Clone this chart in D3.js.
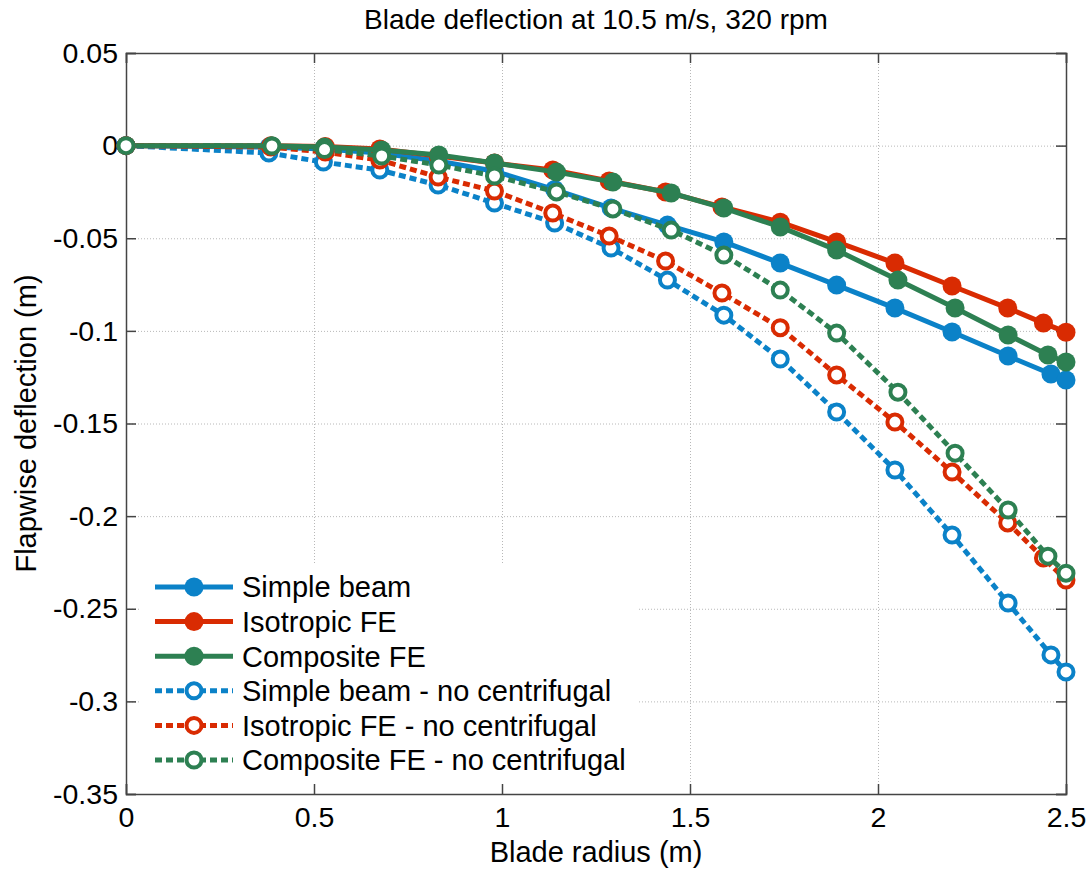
<!DOCTYPE html>
<html>
<head>
<meta charset="utf-8">
<script src="https://cdn.jsdelivr.net/npm/d3@7"></script>
<style>
  html, body { margin: 0; padding: 0; background: #fff; }
  svg { display: block; font-family: "Liberation Sans", Arial, sans-serif; }
</style>
</head>
<body>
<svg id="chart" width="1088" height="869"></svg>
<script>
// ---- Data ----
const seriesNames = ["Simple beam", "Isotropic FE", "Composite FE",
  "Simple beam - no centrifugal", "Isotropic FE - no centrifugal", "Composite FE - no centrifugal"];

const xSimple    = [0, 0.38, 0.525, 0.675, 0.83, 0.98, 1.14, 1.29, 1.44, 1.59, 1.74, 1.89, 2.045, 2.197, 2.346, 2.46, 2.5];
const xIsotropic = [0, 0.385, 0.53, 0.675, 0.83, 0.98, 1.135, 1.285, 1.435, 1.585, 1.74, 1.89, 2.045, 2.197, 2.345, 2.44, 2.5];
const xComposite = [0, 0.388, 0.528, 0.68, 0.832, 0.98, 1.145, 1.295, 1.45, 1.59, 1.74, 1.89, 2.053, 2.205, 2.346, 2.452, 2.5];

const ySimple     = [0, -0.0008, -0.0018, -0.004, -0.0083, -0.0138, -0.0237, -0.0337, -0.0429, -0.052, -0.0634, -0.0753, -0.0877, -0.1006, -0.1136, -0.1233, -0.1265];
const yIsotropic  = [0, -0.0001, -0.0005, -0.0018, -0.0056, -0.0094, -0.0132, -0.0191, -0.025, -0.0331, -0.0413, -0.052, -0.0634, -0.0758, -0.0877, -0.0958, -0.1007];
const yComposite  = [0, -0.0001, -0.0008, -0.0024, -0.0051, -0.0094, -0.0143, -0.0197, -0.0256, -0.0337, -0.0439, -0.0564, -0.0726, -0.0877, -0.1022, -0.113, -0.1168];
const ySimpleNC    = [0, -0.004, -0.0089, -0.0132, -0.0213, -0.031, -0.0418, -0.0553, -0.0726, -0.0915, -0.1152, -0.1438, -0.1751, -0.2102, -0.2469, -0.2749, -0.2841];
const yIsotropicNC = [0, -0.0008, -0.0035, -0.0078, -0.017, -0.0245, -0.0364, -0.0488, -0.0623, -0.0796, -0.0983, -0.1238, -0.1492, -0.1762, -0.2037, -0.2226, -0.2345];
const yCompositeNC = [0, -0.0002, -0.0021, -0.0056, -0.0105, -0.0164, -0.025, -0.0342, -0.0456, -0.0591, -0.078, -0.1012, -0.1331, -0.166, -0.1967, -0.2216, -0.2308];

const xTicks = [0, 0.5, 1, 1.5, 2, 2.5];
const xTickLabels = ["0", "0.5", "1", "1.5", "2", "2.5"];
const yTicks = [0.05, 0, -0.05, -0.1, -0.15, -0.2, -0.25, -0.3, -0.35];
const yTickLabels = ["0.05", "0", "-0.05", "-0.1", "-0.15", "-0.2", "-0.25", "-0.3", "-0.35"];

const colors = ["#0b82c8", "#d92b02", "#2d8052"];

const series = [
  { name: seriesNames[0], xs: xSimple,    ys: ySimple,      color: colors[0], dashed: false },
  { name: seriesNames[1], xs: xIsotropic, ys: yIsotropic,   color: colors[1], dashed: false },
  { name: seriesNames[2], xs: xComposite, ys: yComposite,   color: colors[2], dashed: false },
  { name: seriesNames[3], xs: xSimple,    ys: ySimpleNC,    color: colors[0], dashed: true },
  { name: seriesNames[4], xs: xIsotropic, ys: yIsotropicNC, color: colors[1], dashed: true },
  { name: seriesNames[5], xs: xComposite, ys: yCompositeNC, color: colors[2], dashed: true }
];

// ---- Layout ----
const L = 126, T = 53, R = 1066, B = 794;
const W = R - L, H = B - T;
const svg = d3.select("#chart");

const x = d3.scaleLinear().domain([0, 2.5]).range([L, R]);
const y = d3.scaleLinear().domain([-0.35, 0.05]).range([B, T]);

// Grid
const grid = svg.append("g").attr("class", "grid");
grid.append("g")
  .attr("transform", `translate(0,${B})`)
  .call(d3.axisBottom(x).tickValues(xTicks).tickSize(-H).tickFormat(""))
  .call(g => g.select(".domain").remove())
  .call(g => g.selectAll("line").attr("stroke", "#b8b8b8").attr("stroke-width", 1).attr("stroke-dasharray", "1,2"));
grid.append("g")
  .attr("transform", `translate(${L},0)`)
  .call(d3.axisLeft(y).tickValues(yTicks).tickSize(-W).tickFormat(""))
  .call(g => g.select(".domain").remove())
  .call(g => g.selectAll("line").attr("stroke", "#b8b8b8").attr("stroke-width", 1).attr("stroke-dasharray", "1,2"));

// Axes (box with inward ticks)
const axisColor = "#444";
function styleAxis(g) {
  g.select(".domain").attr("stroke", axisColor).attr("stroke-width", 1.5);
  g.selectAll(".tick line").attr("stroke", axisColor).attr("stroke-width", 1.5);
  g.selectAll("text").attr("fill", "#000").attr("font-size", 28.5)
    .attr("font-family", "Liberation Sans, Arial, sans-serif");
}
svg.append("g").attr("transform", `translate(0,${B})`)
  .call(d3.axisBottom(x).tickValues(xTicks).tickSize(-10).tickPadding(13)
    .tickFormat((d, i) => xTickLabels[i]))
  .call(styleAxis);
svg.append("g").attr("transform", `translate(0,${T})`)
  .call(d3.axisTop(x).tickValues(xTicks).tickSize(-10).tickFormat(""))
  .call(styleAxis);
svg.append("g").attr("transform", `translate(${L},0)`)
  .call(d3.axisLeft(y).tickValues(yTicks).tickSize(-10).tickPadding(8)
    .tickFormat((d, i) => yTickLabels[i]))
  .call(styleAxis);
svg.append("g").attr("transform", `translate(${R},0)`)
  .call(d3.axisRight(y).tickValues(yTicks).tickSize(-10).tickFormat(""))
  .call(styleAxis);

// Series
const line = d3.line().x(d => x(d[0])).y(d => y(d[1]));
const plot = svg.append("g");
series.forEach(s => {
  const pts = s.xs.map((xv, i) => [xv, s.ys[i]]);
  const g = plot.append("g");
  g.append("path").datum(pts)
    .attr("d", line)
    .attr("fill", "none")
    .attr("stroke", s.color)
    .attr("stroke-width", 5)
    .attr("stroke-dasharray", s.dashed ? "7,4" : null);
  g.selectAll("circle").data(pts).enter().append("circle")
    .attr("cx", d => x(d[0])).attr("cy", d => y(d[1]))
    .attr("r", s.dashed ? 7.5 : 9.5)
    .attr("fill", s.dashed ? "#fff" : s.color)
    .attr("stroke", s.dashed ? s.color : "none")
    .attr("stroke-width", s.dashed ? 4 : 0);
});

// Legend
const leg = svg.append("g");
leg.append("rect").attr("x", 140).attr("y", 565).attr("width", 498).attr("height", 217).attr("fill", "#fff");
series.forEach((s, i) => {
  const cy = 587 + i * 34.6;
  leg.append("line").attr("x1", 155).attr("x2", 233).attr("y1", cy).attr("y2", cy)
    .attr("stroke", s.color).attr("stroke-width", 5)
    .attr("stroke-dasharray", s.dashed ? "7,4" : null);
  leg.append("circle").attr("cx", 194).attr("cy", cy)
    .attr("r", s.dashed ? 7.5 : 9.5)
    .attr("fill", s.dashed ? "#fff" : s.color)
    .attr("stroke", s.dashed ? s.color : "none")
    .attr("stroke-width", s.dashed ? 4 : 0);
  leg.append("text").attr("x", 242).attr("y", cy).attr("dy", "0.36em")
    .attr("font-size", 29).attr("fill", "#000").text(s.name);
});

// Title and labels
svg.append("text").attr("x", (L + R) / 2).attr("y", 29).attr("text-anchor", "middle")
  .attr("font-size", 28).attr("fill", "#000").text("Blade deflection at 10.5 m/s, 320 rpm");
svg.append("text").attr("x", (L + R) / 2).attr("y", 862).attr("text-anchor", "middle")
  .attr("font-size", 29).attr("fill", "#000").text("Blade radius (m)");
svg.append("text").attr("transform", `translate(36,${(T + B) / 2}) rotate(-90)`)
  .attr("text-anchor", "middle").attr("font-size", 29).attr("fill", "#000")
  .text("Flapwise deflection (m)");
</script>
</body>
</html>
